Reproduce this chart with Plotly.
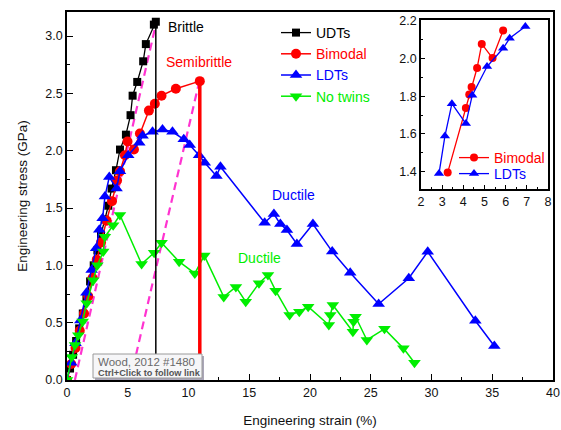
import plotly.graph_objects as go

# ---------------- data ----------------
udt_x = [0, 0.25, 0.5, 0.75, 1.0, 1.3, 1.6, 1.9, 2.2, 2.5, 2.8, 3.1, 3.4, 3.67, 4.03, 4.36,
         4.85, 5.23, 5.40, 5.78, 6.27, 6.49, 7.15, 7.31]
udt_y = [0, 0.10, 0.22, 0.34, 0.45, 0.58, 0.72, 0.86, 1.00, 1.13, 1.27, 1.40, 1.52, 1.67, 1.83, 2.01,
         2.14, 2.31, 2.48, 2.60, 2.78, 2.93, 3.10, 3.125]

bim_x = [0, 0.35, 0.7, 1.05, 1.4, 1.75, 2.1, 2.45, 2.8, 3.26, 3.7, 4.12, 4.36, 4.77, 4.98, 5.51,
         6.0, 6.74, 7.23, 7.78, 8.96, 10.93]
bim_y = [0, 0.14, 0.28, 0.43, 0.58, 0.73, 0.89, 1.05, 1.20, 1.39, 1.56, 1.74, 1.82, 1.96, 2.08, 2.01,
         2.15, 2.35, 2.41, 2.48, 2.54, 2.607]

ldt_x = [0, 0.35, 0.7, 1.1, 1.6, 2.03, 2.4, 2.66, 2.93, 3.12, 3.48, 4.08, 4.36, 5.04, 5.95, 6.22,
         7.04, 7.86, 8.68, 9.61, 10.1, 10.87, 11.34, 12.30, 12.63, 16.27, 17.03, 17.56, 18.1, 18.92,
         20.24, 21.83, 23.31, 25.65, 28.13, 29.69, 33.61, 35.17]
ldt_y = [0, 0.15, 0.32, 0.52, 0.76, 0.96, 1.15, 1.31, 1.41, 1.60, 1.77, 1.67, 1.82, 1.96, 2.07, 2.13,
         2.165, 2.185, 2.165, 2.10, 2.05, 1.96, 1.895, 1.78, 1.86, 1.372, 1.448, 1.36, 1.308, 1.186,
         1.36, 1.12, 0.936, 0.663, 0.887, 1.119, 0.517, 0.296]

nt_x = [0, 0.39, 0.66, 0.93, 1.29, 1.62, 2.16, 2.5, 2.98, 3.12, 3.80, 4.36, 6.14, 7.17, 7.78, 9.23,
        10.52, 11.30, 12.9, 13.9, 14.71, 15.8, 16.54, 17.17, 18.32, 19.12, 19.85, 21.55, 21.67, 21.88,
        23.53, 23.58, 23.75, 24.68, 26.13, 27.69, 28.6]
nt_y = [0, 0.20, 0.305, 0.39, 0.51, 0.67, 0.87, 1.0, 1.12, 1.25, 1.35, 1.439, 1.012, 1.11, 1.197, 1.032,
        0.93, 1.085, 0.725, 0.812, 0.683, 0.843, 0.916, 0.779, 0.567, 0.596, 0.639, 0.48, 0.567, 0.654,
        0.421, 0.508, 0.552, 0.349, 0.446, 0.276, 0.151]

# unloading (dashed magenta) lines
unload1_x = [0.65, 7.35]
unload1_y = [0, 3.12]
unload2_x = [5.2, 10.9]
unload2_y = [0, 2.61]

# inset data
in_bim_x = [3.26, 4.12, 4.28, 4.39, 4.65, 4.87, 5.38, 5.88]
in_bim_y = [1.395, 1.738, 1.809, 1.849, 1.95, 2.078, 2.003, 2.149]
in_ldt_x = [2.85, 3.13, 3.46, 4.12, 4.42, 5.12, 5.88, 6.19, 6.93]
in_ldt_y = [1.39, 1.589, 1.761, 1.655, 1.805, 1.958, 2.055, 2.108, 2.17]

# ---------------- figure ----------------
BLACK, RED, BLUE, GREEN, MAG = "#000000", "#ff0000", "#0000ff", "#00ee00", "#ff33d0"
FONT = "Liberation Sans, Arial, sans-serif"

fig = go.Figure()

fig.add_trace(go.Scatter(x=unload1_x, y=unload1_y, mode="lines", showlegend=False,
                         line=dict(color=MAG, width=2.2, dash="8px,5px")))
fig.add_trace(go.Scatter(x=unload2_x, y=unload2_y, mode="lines", showlegend=False,
                         line=dict(color=MAG, width=2.2, dash="8px,5px")))

fig.add_trace(go.Scatter(x=udt_x, y=udt_y, mode="lines+markers",
                         name="<span style='color:#000000'>UDTs</span>",
                         line=dict(color=BLACK, width=1.3),
                         marker=dict(symbol="square", size=8, color=BLACK)))
fig.add_trace(go.Scatter(x=bim_x, y=bim_y, mode="lines+markers",
                         name="<span style='color:#ff0000'>Bimodal</span>",
                         line=dict(color=RED, width=1.5),
                         marker=dict(symbol="circle", size=10, color=RED)))
fig.add_trace(go.Scatter(x=ldt_x, y=ldt_y, mode="lines+markers",
                         name="<span style='color:#0000ff'>LDTs</span>",
                         line=dict(color=BLUE, width=1.5),
                         marker=dict(symbol="triangle-up", size=11, color=BLUE)))
fig.add_trace(go.Scatter(x=nt_x, y=nt_y, mode="lines+markers",
                         name="<span style='color:#00ee00'>No twins</span>",
                         line=dict(color=GREEN, width=1.5),
                         marker=dict(symbol="triangle-down", size=11, color=GREEN)))

# fracture drops (vertical lines) from the last point of each series
fig.add_trace(go.Scatter(x=[udt_x[-1], udt_x[-1]], y=[udt_y[-1], 0], mode="lines", showlegend=False,
                         line=dict(color=BLACK, width=1.5)))
fig.add_trace(go.Scatter(x=[bim_x[-1], bim_x[-1]], y=[bim_y[-1], 0], mode="lines", showlegend=False,
                         line=dict(color=RED, width=3.5)))

# inset
fig.add_trace(go.Scatter(x=in_bim_x, y=in_bim_y, mode="lines+markers", name="<span style='color:#ff0000'>Bimodal</span>",
                         xaxis="x2", yaxis="y2", legend="legend2",
                         line=dict(color=RED, width=1.3),
                         marker=dict(symbol="circle", size=8, color=RED)))
fig.add_trace(go.Scatter(x=in_ldt_x, y=in_ldt_y, mode="lines+markers", name="<span style='color:#0000ff'>LDTs</span>",
                         xaxis="x2", yaxis="y2", legend="legend3",
                         line=dict(color=BLUE, width=1.3),
                         marker=dict(symbol="triangle-up", size=9, color=BLUE)))

L, R, T, B = 67, 8, 12, 50
W, H = 561, 430
PW, PH = W - L - R, H - T - B


def px(xp):
    return (xp - L) / PW


def py(yp):
    return (H - B - yp) / PH


axis_common = dict(showline=True, linecolor="black", linewidth=1.5, mirror=True, automargin=False,
                   ticks="inside", tickcolor="black", tickwidth=1.2, showgrid=False, zeroline=False,
                   tickfont=dict(family=FONT, size=12.5, color="#111"))

fig.update_layout(
    width=W, height=H, margin=dict(l=L, r=R, t=T, b=B),
    paper_bgcolor="white", plot_bgcolor="white",
    font=dict(family=FONT, size=12, color="#111"),
    xaxis=dict(range=[0, 40], dtick=5, ticklen=6,
               minor=dict(dtick=2.5, ticks="inside", ticklen=3, tickcolor="black", tickwidth=1.2),
               title=dict(text="Engineering strain (%)", font=dict(family=FONT, size=13.5), standoff=17),
               **axis_common),
    yaxis=dict(range=[0, 3.21], dtick=0.5, tickformat=".1f", ticklen=6,
               minor=dict(dtick=0.25, ticks="inside", ticklen=3, tickcolor="black", tickwidth=1.2),
               title=dict(text="Engineering stress (GPa)", font=dict(family=FONT, size=13.5), standoff=15),
               **axis_common),
    xaxis2=dict(domain=[px(421), px(548)], anchor="y2", range=[2, 8], dtick=1, ticklen=4,
                minor=dict(dtick=0.5, ticks="inside", ticklen=2, tickcolor="black", tickwidth=1),
                **axis_common),
    yaxis2=dict(domain=[py(189), py(20)], anchor="x2", range=[1.308, 2.205], dtick=0.2,
                tickformat=".1f", ticklen=4,
                minor=dict(dtick=0.1, ticks="inside", ticklen=2, tickcolor="black", tickwidth=1),
                **axis_common),
    legend=dict(x=px(276), y=py(17), xanchor="left", yanchor="top", bgcolor="rgba(0,0,0,0)",
                font=dict(family=FONT, size=14), tracegroupgap=0),
    legend2=dict(x=px(454), y=py(142), xanchor="left", yanchor="top", bgcolor="rgba(0,0,0,0)",
                 font=dict(family=FONT, size=14)),
    legend3=dict(x=px(454), y=py(158), xanchor="left", yanchor="top", bgcolor="rgba(0,0,0,0)",
                 font=dict(family=FONT, size=14)),
)

# text labels
ann = [
    dict(x=8.15, y=3.08, text="Brittle", color=BLACK),
    dict(x=7.98, y=2.77, text="Semibrittle", color=RED),
    dict(x=16.7, y=1.61, text="Ductile", color=BLUE),
    dict(x=13.9, y=1.064, text="Ductile", color=GREEN),
]
for a in ann:
    fig.add_annotation(x=a["x"], y=a["y"], xref="x", yref="y", text=a["text"], showarrow=False,
                       xanchor="left", yanchor="middle",
                       font=dict(family=FONT, size=14, color=a["color"]))

# tooltip-like box ("Wood, 2012 #1480")
fig.add_shape(type="rect", xref="paper", yref="paper", x0=px(95), x1=px(204), y0=py(380), y1=py(356),
              fillcolor="#aaa6b8", line=dict(width=0), layer="above")
fig.add_shape(type="rect", xref="paper", yref="paper", x0=px(93), x1=px(202), y0=py(378), y1=py(354),
              fillcolor="#f6f6f8", line=dict(color="#9a9a9a", width=1), layer="above")
fig.add_annotation(x=px(96), y=py(361.5), xref="paper", yref="paper", showarrow=False,
                   xanchor="left", yanchor="middle", text="Wood, 2012 #1480",
                   font=dict(family=FONT, size=11.5, color="#6a6a6a"))
fig.add_annotation(x=px(95.5), y=py(372.5), xref="paper", yref="paper", showarrow=False,
                   xanchor="left", yanchor="middle", text="<b>Ctrl+Click to follow link</b>",
                   font=dict(family=FONT, size=9.2, color="#555555"))

fig.write_html("out.html")
